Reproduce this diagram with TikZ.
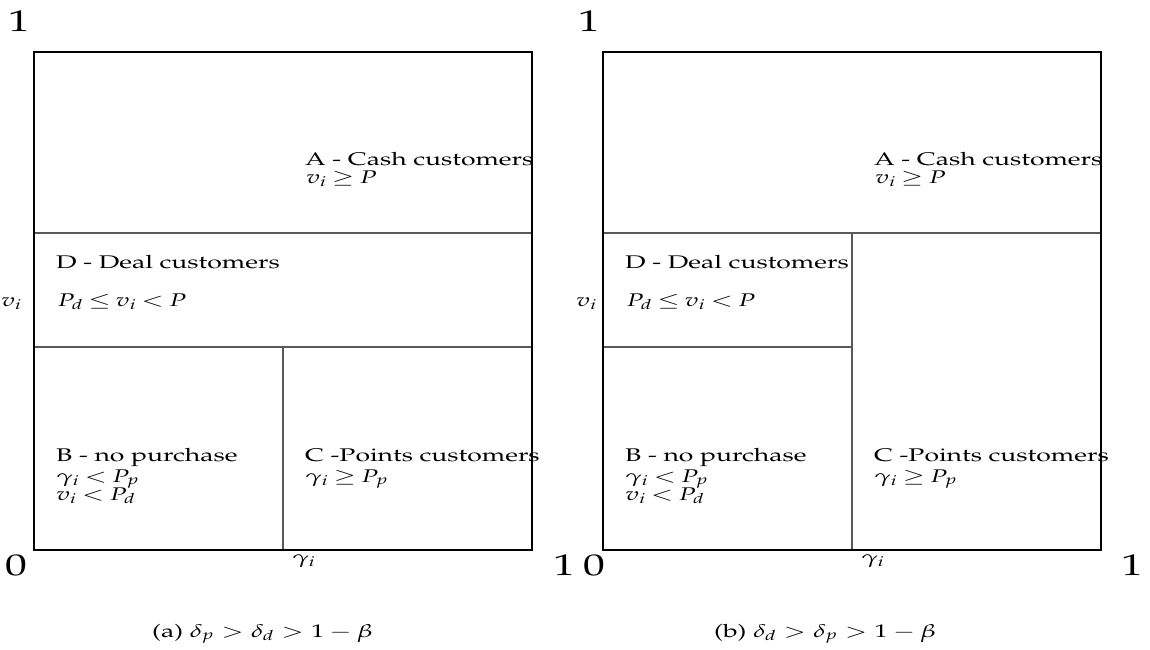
\documentclass[tikz,border=0pt]{standalone}
\usepackage[T1]{fontenc}
\usepackage{mathpazo}
\usepackage{graphicx}
% horizontally widened text; \sx also tightens relation spacing
\newcommand{\sx}[1]{\scalebox{1.45}[1]{\thickmuskip=3.5mu\relax#1}}
\newcommand{\sxc}[1]{\scalebox{1.45}[1]{#1}}
\tikzset{
  frame/.style={draw=black, line width=1.6pt},
  divider/.style={draw=black!65, line width=1.4pt},
  txt/.style={inner sep=0pt, anchor=base west, font=\fontsize{18.3}{20}\selectfont},
  axis/.style={inner sep=0pt, anchor=base west, font=\fontsize{30}{32}\selectfont},
}
\begin{document}
\begin{tikzpicture}[x=1pt, y=-1pt]
\useasboundingbox (0,0) rectangle (1150,649);

% ---- panel (a) ----
\coordinate (aNW) at (34,52);
\coordinate (aSE) at (532,550);
\draw[divider] (34,233) -- (532,233);
\draw[divider] (34,347) -- (532,347);
\draw[divider] (283,347) -- (283,550);
\draw[frame] (aNW) rectangle (aSE);

\node[axis] (a1top) at (8,31) {\sxc{1}};
\node[axis] (a0) at (5,575) {\sxc{0}};
\node[axis] (a1right) at (553,575) {\sxc{1}};
\node[txt] (avi) at (1,306) {\sx{$v_i$}};
\node[txt] (agam) at (292,563) {\sx{$\gamma_i$}};

\node[txt] (aA) at (305,165) {\sx{A - Cash customers}};
\node[txt] (aA2) at (306,183) {\sx{$v_i \geq P$}};
\node[txt] (aD) at (56,268) {\sx{D - Deal customers}};
\node[txt] (aD2) at (57,306) {\sx{$P_d \leq v_i < P$}};
\node[txt] (aB) at (56,461) {\sx{B - no purchase}};
\node[txt] (aB2) at (56,482) {\sx{$\gamma_i < P_p$}};
\node[txt] (aB3) at (56,500) {\sx{$v_i < P_d$}};
\node[txt] (aC) at (305,461) {\sx{C -Points customers}};
\node[txt] (aC2) at (305,482) {\sx{$\gamma_i \geq P_p$}};

\node[txt] (acap) at (152,637) {\sxc{(a) $\delta_p > \delta_d > 1-\beta$}};

% ---- panel (b) ----
\coordinate (bNW) at (603,52);
\coordinate (bSE) at (1101,550);
\draw[divider] (603,233) -- (1101,233);
\draw[divider] (603,347) -- (852,347);
\draw[divider] (852,233) -- (852,550);
\draw[frame] (bNW) rectangle (bSE);

\node[axis] (b1top) at (578,31) {\sxc{1}};
\node[axis] (b0) at (583,575) {\sxc{0}};
\node[axis] (b1right) at (1121,575) {\sxc{1}};
\node[txt] (bvi) at (576,306) {\sx{$v_i$}};
\node[txt] (bgam) at (861,563) {\sx{$\gamma_i$}};

\node[txt] (bA) at (874,165) {\sx{A - Cash customers}};
\node[txt] (bA2) at (875,183) {\sx{$v_i \geq P$}};
\node[txt] (bD) at (625,268) {\sx{D - Deal customers}};
\node[txt] (bD2) at (626,306) {\sx{$P_d \leq v_i < P$}};
\node[txt] (bB) at (625,461) {\sx{B - no purchase}};
\node[txt] (bB2) at (625,482) {\sx{$\gamma_i < P_p$}};
\node[txt] (bB3) at (625,500) {\sx{$v_i < P_d$}};
\node[txt] (bC) at (874,461) {\sx{C -Points customers}};
\node[txt] (bC2) at (874,482) {\sx{$\gamma_i \geq P_p$}};

\node[txt] (bcap) at (714,637) {\sxc{(b) $\delta_d > \delta_p > 1-\beta$}};
\end{tikzpicture}
\end{document}
